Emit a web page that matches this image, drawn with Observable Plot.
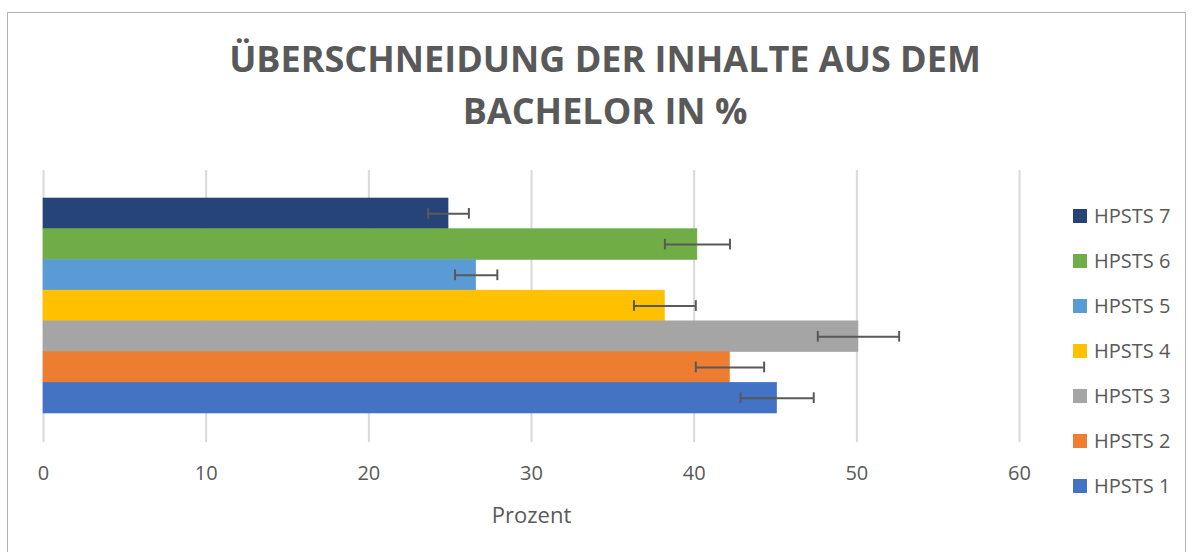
<!DOCTYPE html>
<html>
<head>
<meta charset="utf-8">
<script src="https://cdn.jsdelivr.net/npm/d3@7"></script>
<script src="https://cdn.jsdelivr.net/npm/@observablehq/plot@0.6"></script>
<style>
  body { margin: 0; background: #fff; font-family: "Open Sans", sans-serif; }
  #wrap { position: relative; width: 1192px; height: 552px; overflow: hidden; background: #fff; }
  #border { position: absolute; left: 7px; top: 12px; width: 1177px; height: 600px; border: 1.5px solid #b4b4b4; }
  #title { position: absolute; left: 0; top: 33px; width: 1192px; padding-left: 18px; box-sizing: border-box; text-align: center;
           font: bold 36px/52px "Open Sans", sans-serif; color: #595959; }
  #chart { position: absolute; left: 0; top: 160px; }
  #legend { position: absolute; left: 1073px; top: 0; }
  .row { position: absolute; left: 0; height: 24px; display: flex; align-items: center; white-space: nowrap;
         font: 20px "Open Sans", sans-serif; color: #595959; }
  .sw { width: 14px; height: 14px; margin-right: 7px; flex: none; }
</style>
</head>
<body>
<div id="wrap">
  <div id="border"></div>
  <div id="title">ÜBERSCHNEIDUNG DER INHALTE AUS DEM<br>BACHELOR IN %</div>
  <div id="chart"></div>
  <div id="legend"></div>
</div>
<script>
const series = ["HPSTS 7", "HPSTS 6", "HPSTS 5", "HPSTS 4", "HPSTS 3", "HPSTS 2", "HPSTS 1"];
const values = [24.9, 40.2, 26.6, 38.2, 50.1, 42.2, 45.1];
const errors = [1.25, 2.0, 1.3, 1.9, 2.5, 2.1, 2.25];
const colors = ["#264478", "#70AD47", "#5B9BD5", "#FFC000", "#A5A5A5", "#ED7D31", "#4472C4"];
const xTicks = [0, 10, 20, 30, 40, 50, 60];
const axisLabel = "Prozent";

const data = series.map((s, i) => ({ s, v: values[i], lo: values[i] - errors[i], hi: values[i] + errors[i] }));

const chart = Plot.plot({
  width: 1192,
  height: 392,
  marginLeft: 43,
  marginRight: 173,
  marginTop: 10,
  marginBottom: 110,
  style: { fontFamily: "Open Sans, sans-serif", color: "#595959", background: "transparent" },
  x: { domain: [0, 60] },
  y: { domain: series, padding: 0, round: false, insetTop: 28, insetBottom: 29, axis: null },
  color: { domain: series, range: colors },
  marks: [
    Plot.gridX(xTicks, { stroke: "#d9d9d9", strokeOpacity: 1, strokeWidth: 2 }),
    Plot.barX(data, { x: "v", y: "s", fill: "s", stroke: "s", strokeWidth: 0.6 }),
    Plot.ruleY(data, { x1: "lo", x2: "hi", y: "s", stroke: "#595959", strokeWidth: 2 }),
    Plot.tickX(data, { x: "lo", y: "s", stroke: "#595959", strokeWidth: 2, insetTop: 10, insetBottom: 10 }),
    Plot.tickX(data, { x: "hi", y: "s", stroke: "#595959", strokeWidth: 2, insetTop: 10, insetBottom: 10 }),
    Plot.axisX(xTicks, { tickSize: 0, tickPadding: 23, fontSize: 20, fill: "#595959",
      label: axisLabel, labelAnchor: "center", labelArrow: "none", labelOffset: 80 })
  ]
});
chart.querySelectorAll("text").forEach(t => {
  if (t.textContent.trim() === axisLabel) t.style.fontSize = "22px";
});
document.getElementById("chart").appendChild(chart);

const legend = document.getElementById("legend");
series.forEach((s, i) => {
  const row = document.createElement("div");
  row.className = "row";
  row.style.top = (215.7 + 45 * i - 12) + "px";
  const sw = document.createElement("span");
  sw.className = "sw";
  sw.style.background = colors[i];
  const tx = document.createElement("span");
  tx.textContent = s;
  row.appendChild(sw);
  row.appendChild(tx);
  legend.appendChild(row);
});
</script>
</body>
</html>
